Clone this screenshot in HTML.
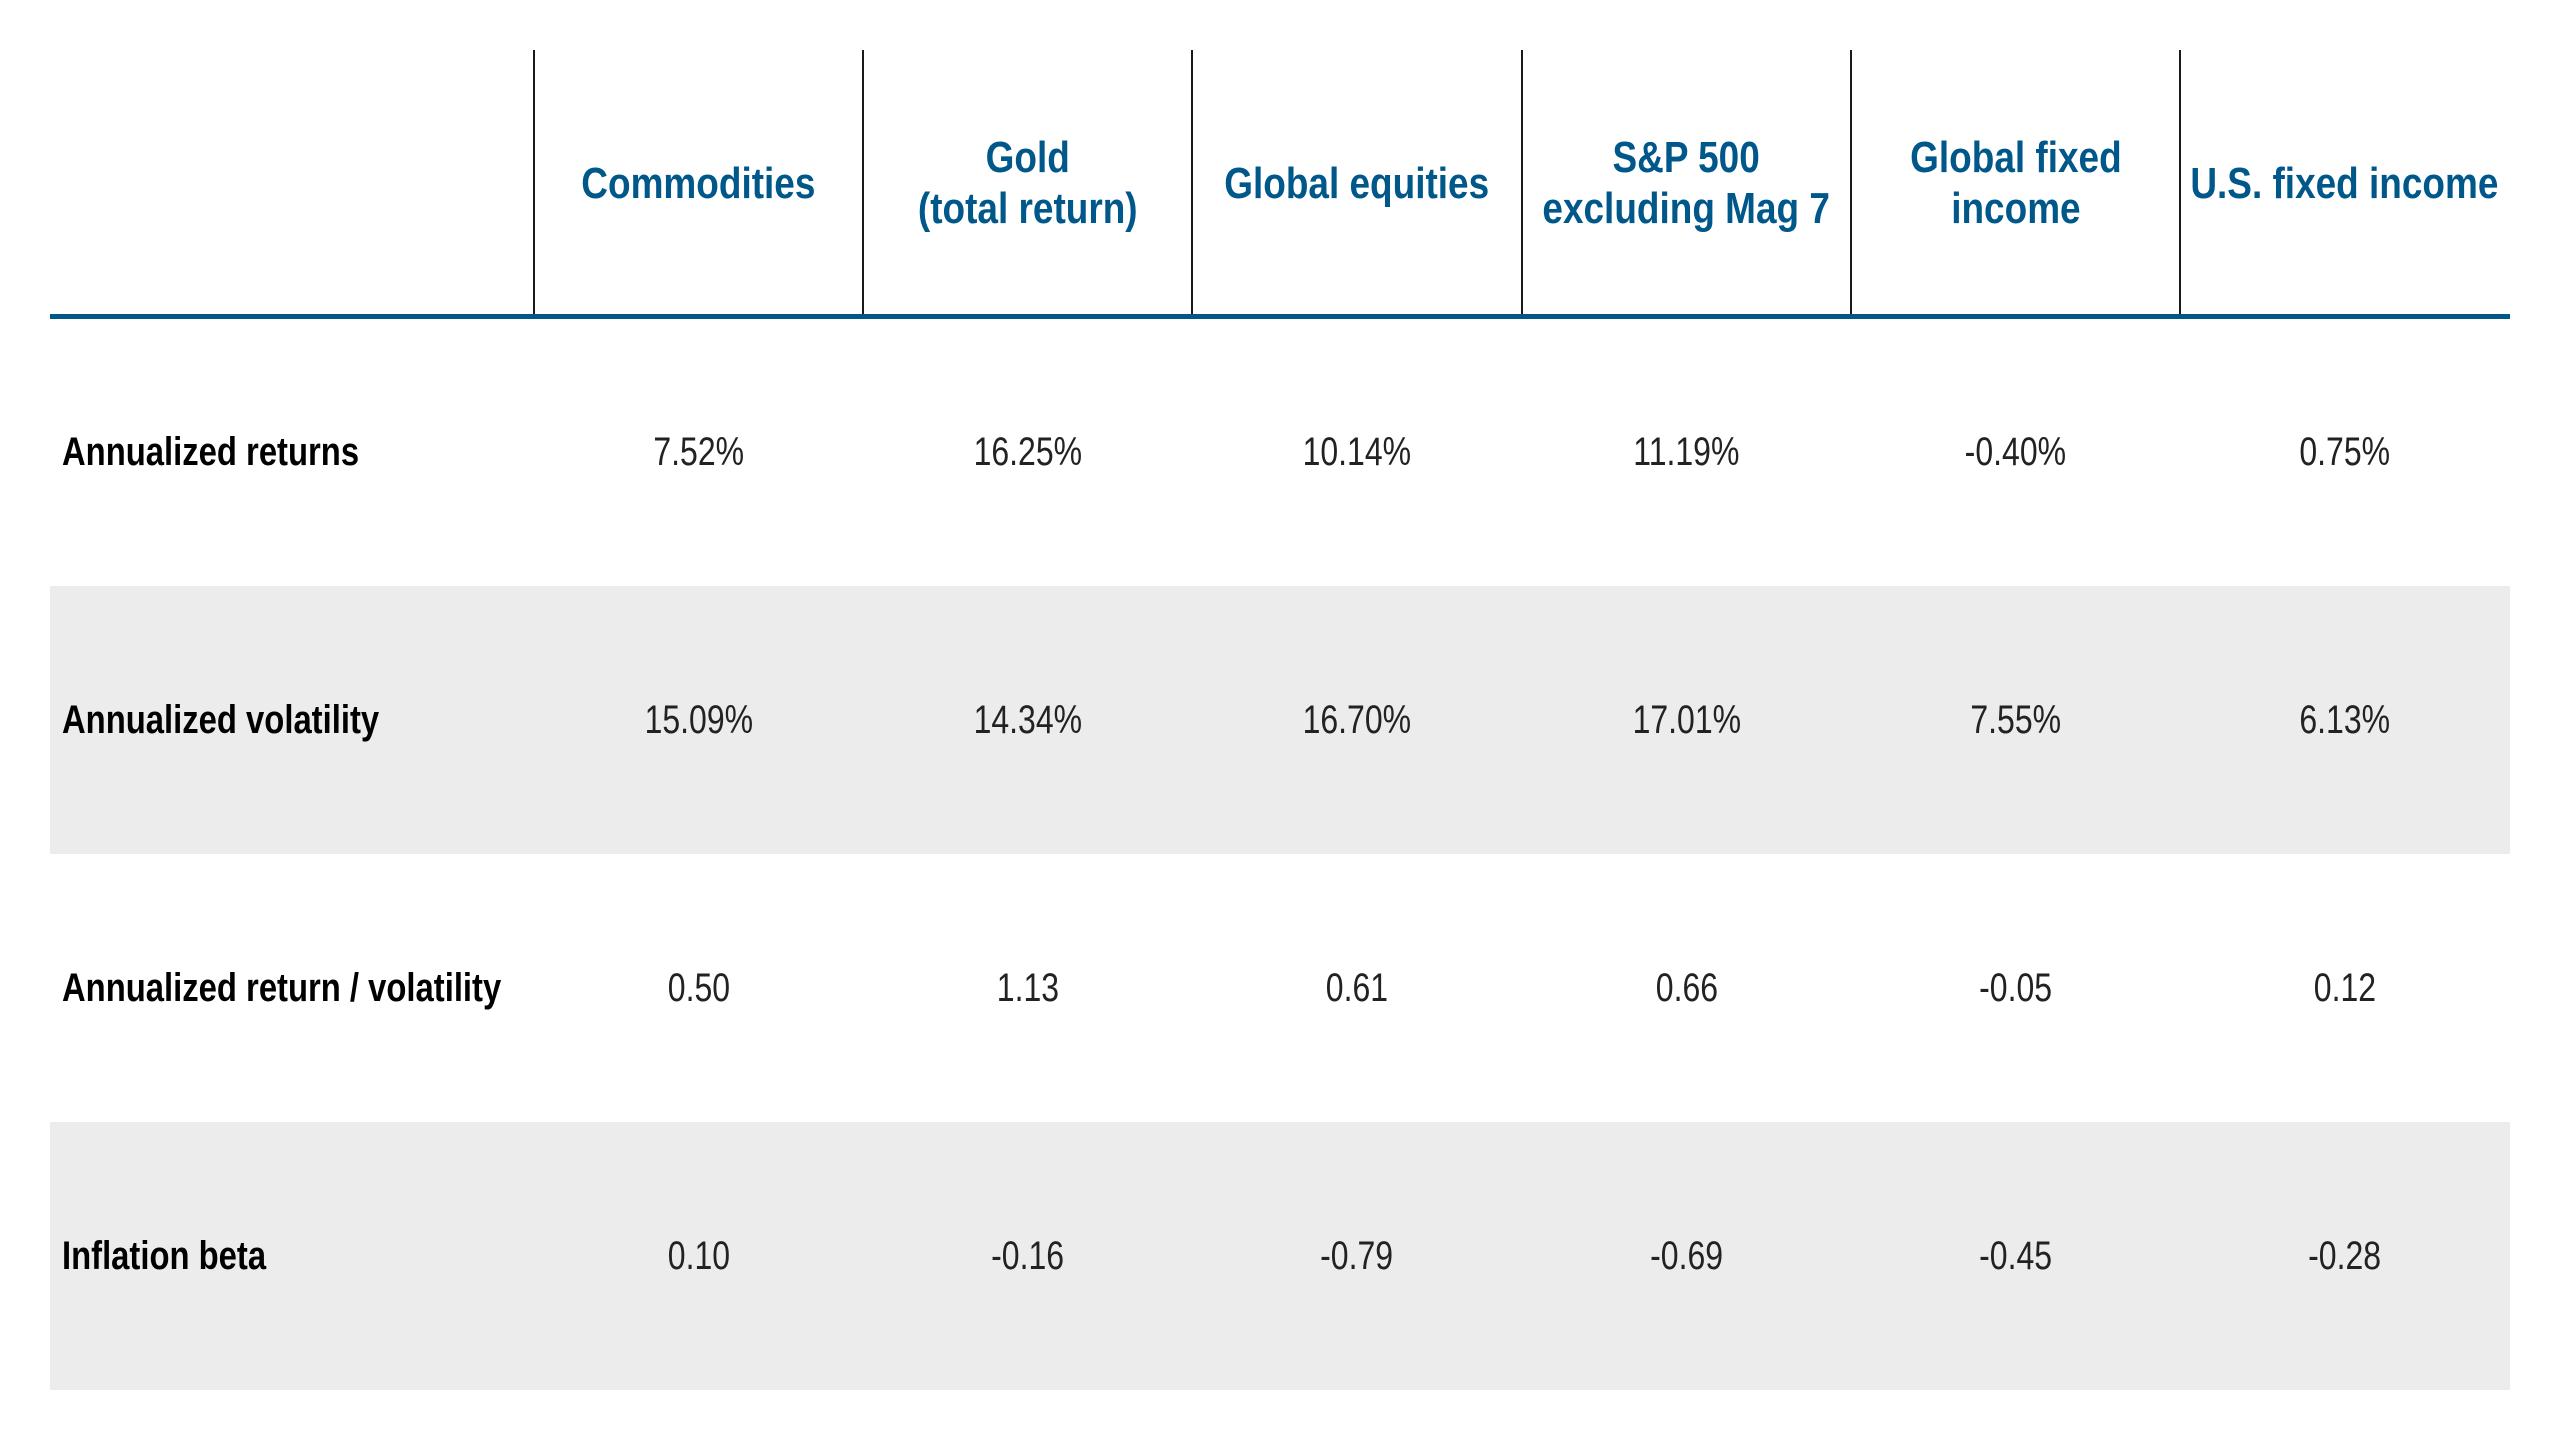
<!DOCTYPE html>
<html><head><style>
html,body{margin:0;padding:0;background:#fff;width:2560px;height:1440px;overflow:hidden}
body{position:relative;font-family:"Liberation Sans",sans-serif}
.g{position:absolute;left:50px;width:2460px;height:268px;background:#ececec}
.v{position:absolute;top:50px;height:268px;width:2px;background:#1a1a1a}
.hl{position:absolute;left:50px;width:2460px;top:314px;height:5px;background:#00578a}
.h{position:absolute;top:118px;height:130px;width:329px;display:flex;align-items:center;justify-content:center;text-align:center;color:#00578a;font-weight:bold;font-size:44px;line-height:51px}
.h span{display:inline-block;white-space:nowrap;transform:scaleX(0.84)}
.l{position:absolute;left:62px;font-weight:bold;font-size:40px;color:#000;height:268px;display:flex;align-items:center}
.l span{display:inline-block;white-space:nowrap;transform:scaleX(0.82);transform-origin:left center}
.c{position:absolute;width:329px;text-align:center;font-size:40px;color:#222;height:268px;display:flex;align-items:center;justify-content:center}
.c span{display:inline-block;white-space:nowrap;transform:scaleX(0.8)}
</style></head><body>
<div class="g" style="top:586px"></div>
<div class="g" style="top:1122px"></div>
<div class="v" style="left:533px"></div>
<div class="v" style="left:862px"></div>
<div class="v" style="left:1191px"></div>
<div class="v" style="left:1521px"></div>
<div class="v" style="left:1850px"></div>
<div class="v" style="left:2179px"></div>
<div class="hl"></div>
<div class="h" style="left:534px"><span>Commodities</span></div>
<div class="h" style="left:863px"><span>Gold<br>(total return)</span></div>
<div class="h" style="left:1192px"><span>Global equities</span></div>
<div class="h" style="left:1522px"><span>S&amp;P 500<br>excluding Mag 7</span></div>
<div class="h" style="left:1851px"><span>Global fixed<br>income</span></div>
<div class="h" style="left:2180px"><span>U.S. fixed income</span></div>

<div class="l" style="top:318px"><span>Annualized returns</span></div>
<div class="l" style="top:586px"><span>Annualized volatility</span></div>
<div class="l" style="top:854px"><span>Annualized return / volatility</span></div>
<div class="l" style="top:1122px"><span>Inflation beta</span></div>

<div class="c" style="top:318px;left:534px"><span>7.52%</span></div>
<div class="c" style="top:318px;left:863px"><span>16.25%</span></div>
<div class="c" style="top:318px;left:1192px"><span>10.14%</span></div>
<div class="c" style="top:318px;left:1522px"><span>11.19%</span></div>
<div class="c" style="top:318px;left:1851px"><span>-0.40%</span></div>
<div class="c" style="top:318px;left:2180px"><span>0.75%</span></div>

<div class="c" style="top:586px;left:534px"><span>15.09%</span></div>
<div class="c" style="top:586px;left:863px"><span>14.34%</span></div>
<div class="c" style="top:586px;left:1192px"><span>16.70%</span></div>
<div class="c" style="top:586px;left:1522px"><span>17.01%</span></div>
<div class="c" style="top:586px;left:1851px"><span>7.55%</span></div>
<div class="c" style="top:586px;left:2180px"><span>6.13%</span></div>

<div class="c" style="top:854px;left:534px"><span>0.50</span></div>
<div class="c" style="top:854px;left:863px"><span>1.13</span></div>
<div class="c" style="top:854px;left:1192px"><span>0.61</span></div>
<div class="c" style="top:854px;left:1522px"><span>0.66</span></div>
<div class="c" style="top:854px;left:1851px"><span>-0.05</span></div>
<div class="c" style="top:854px;left:2180px"><span>0.12</span></div>

<div class="c" style="top:1122px;left:534px"><span>0.10</span></div>
<div class="c" style="top:1122px;left:863px"><span>-0.16</span></div>
<div class="c" style="top:1122px;left:1192px"><span>-0.79</span></div>
<div class="c" style="top:1122px;left:1522px"><span>-0.69</span></div>
<div class="c" style="top:1122px;left:1851px"><span>-0.45</span></div>
<div class="c" style="top:1122px;left:2180px"><span>-0.28</span></div>
</body></html>
